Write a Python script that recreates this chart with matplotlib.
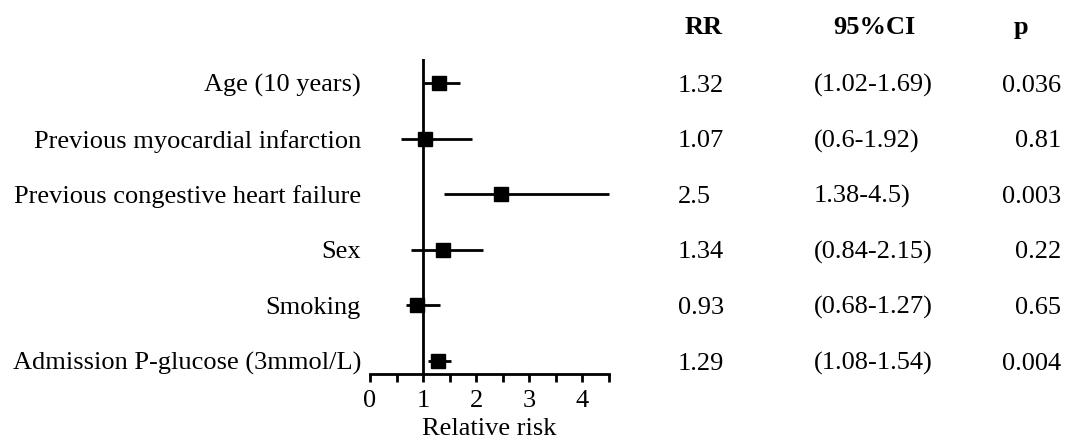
import matplotlib
matplotlib.use("Agg")
import matplotlib.pyplot as plt
import matplotlib.transforms as mtransforms

plt.rcParams['font.family'] = ['Liberation Serif', 'DejaVu Serif']

factors = ['Age (10 years)', 'Previous myocardial infarction',
           'Previous congestive heart failure', 'Sex', 'Smoking',
           'Admission P-glucose (3mmol/L)']
# values as drawn in the plot
rr = [1.30, 1.03, 2.47, 1.37, 0.88, 1.28]
ci_low = [1.02, 0.58, 1.39, 0.77, 0.68, 1.09]
ci_high = [1.70, 1.92, 4.50, 2.12, 1.32, 1.52]
# values as printed in the table
rr_text = ['1.32', '1.07', '2.5', '1.34', '0.93', '1.29']
ci_text = ['(1.02-1.69)', '(0.6-1.92)', '1.38-4.5)', '(0.84-2.15)',
           '(0.68-1.27)', '(1.08-1.54)']
p_text = ['0.036', '0.81', '0.003', '0.22', '0.65', '0.004']

fs = 19

fig = plt.figure(figsize=(10.66, 4.42), dpi=100)
ax = fig.add_axes([370 / 1066, (442 - 374) / 442, 239 / 1066, 315 / 442])

ypos = list(range(len(factors), 0, -1))
xerr = [[r - l for r, l in zip(rr, ci_low)], [h - r for r, h in zip(rr, ci_high)]]

ax.axvline(1, color='black', lw=2.0, zorder=1)
ax.errorbar(rr, ypos, xerr=xerr, fmt='s', color='black', ms=10,
            elinewidth=2.0, capsize=0, clip_on=False, zorder=3)

ax.set_xlim(0, 4.5)
ax.set_ylim(0.766, 6.43)
ax.set_xticks([0, 1, 2, 3, 4])
ax.set_xticks([0.5, 1.5, 2.5, 3.5, 4.5], minor=True)
ax.set_yticks(ypos)
ax.set_yticklabels(factors)
ax.tick_params(axis='y', length=0, pad=6.5, labelsize=fs)
ax.tick_params(axis='x', which='both', length=6, width=2.0, direction='out',
               labelsize=fs, pad=5.5)
for s in ['top', 'right', 'left']:
    ax.spines[s].set_visible(False)
ax.spines['bottom'].set_linewidth(2.0)
ax.set_xlabel('Relative risk', fontsize=fs, labelpad=4)

trans = mtransforms.blended_transform_factory(fig.transFigure, ax.transData)
head_y = 6.88
ax.text(0.6604, head_y, 'RR', transform=trans, ha='center', va='baseline',
        fontsize=fs, fontweight='bold', clip_on=False)
ax.text(0.8204, head_y, '95%CI', transform=trans, ha='center', va='baseline',
        fontsize=fs, fontweight='bold', clip_on=False)
ax.text(0.9578, head_y, 'p', transform=trans, ha='center', va='baseline',
        fontsize=fs, fontweight='bold', clip_on=False)
for y, a, b, c in zip(ypos, rr_text, ci_text, p_text):
    yb = y - 0.155
    ax.text(0.636, yb, a, transform=trans, ha='left', va='baseline',
            fontsize=fs, clip_on=False)
    ax.text(0.7636, yb, b, transform=trans, ha='left', va='baseline',
            fontsize=fs, clip_on=False)
    ax.text(0.9953, yb, c, transform=trans, ha='right', va='baseline',
            fontsize=fs, clip_on=False)

fig.savefig('out.png', dpi=100)
